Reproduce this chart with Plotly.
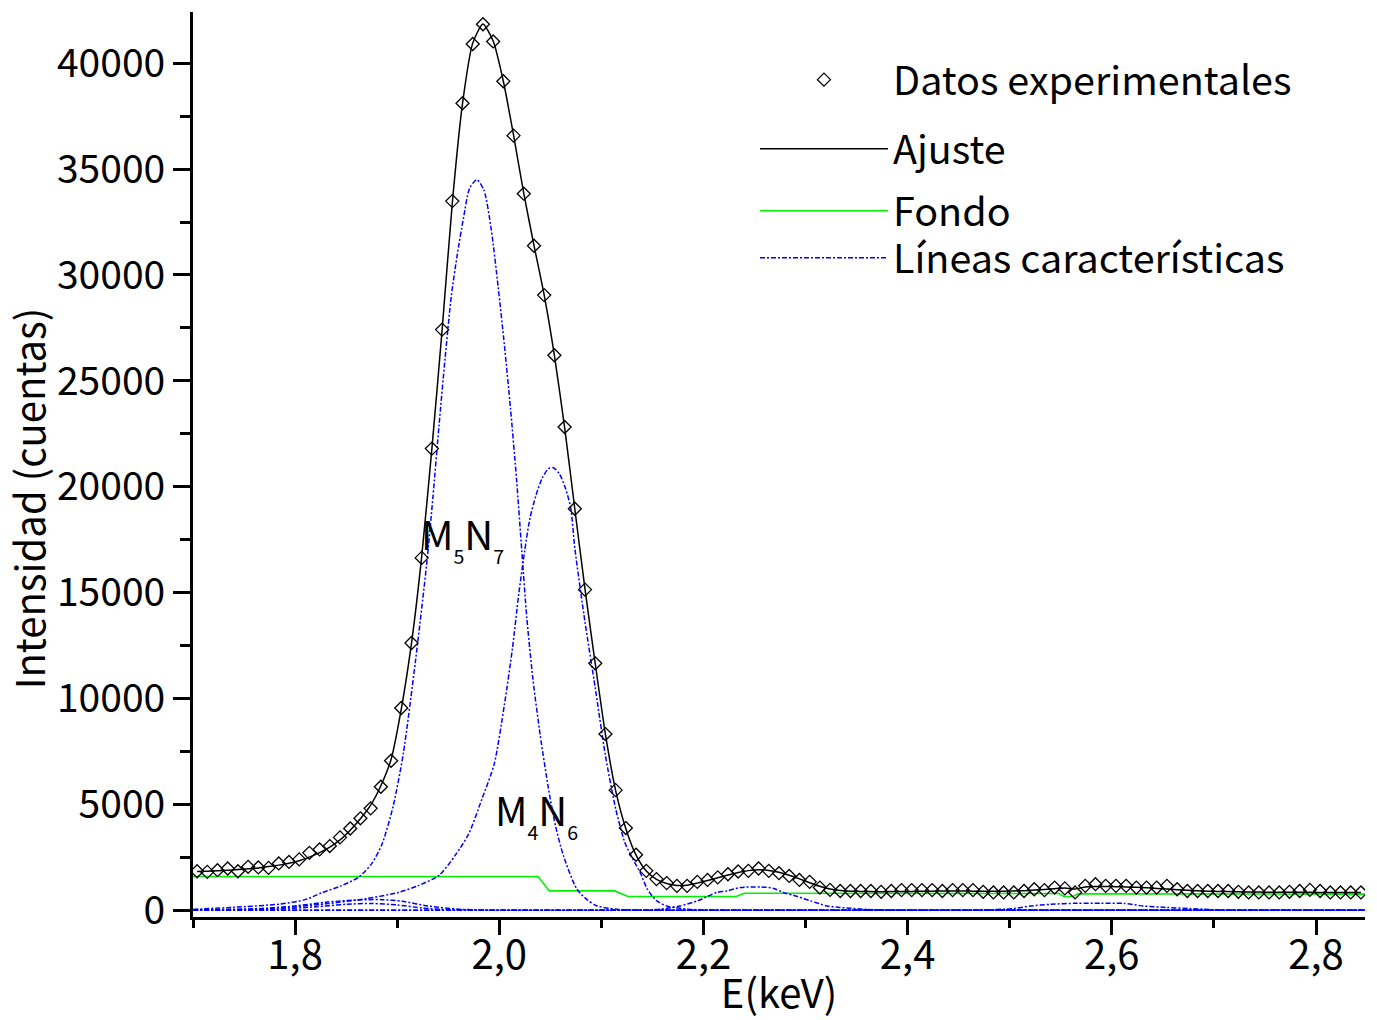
import plotly.graph_objects as go

FONT = "Noto Sans CJK SC"

# ---- experimental data (energy grid, counts) ----
E_DATA = [1.704, 1.714, 1.724, 1.734, 1.744, 1.754, 1.764, 1.774, 1.784, 1.794,
          1.804, 1.814, 1.824, 1.834, 1.844, 1.854, 1.864, 1.874, 1.884, 1.894,
          1.904, 1.914, 1.924, 1.934, 1.944, 1.954, 1.964, 1.974, 1.984, 1.994,
          2.004, 2.014, 2.024, 2.034, 2.044, 2.054, 2.064, 2.074, 2.084, 2.094,
          2.104, 2.114, 2.124, 2.134, 2.144, 2.154, 2.164, 2.174, 2.184, 2.194,
          2.204, 2.214, 2.224, 2.234, 2.244, 2.254, 2.264, 2.274, 2.284, 2.294,
          2.304, 2.314, 2.324, 2.334, 2.344, 2.354, 2.364, 2.374, 2.384, 2.394,
          2.404, 2.414, 2.424, 2.434, 2.444, 2.454, 2.464, 2.474, 2.484, 2.494,
          2.504, 2.514, 2.524, 2.534, 2.544, 2.554, 2.564, 2.574, 2.584, 2.594,
          2.604, 2.614, 2.624, 2.634, 2.644, 2.654, 2.664, 2.674, 2.684, 2.694,
          2.704, 2.714, 2.724, 2.734, 2.744, 2.754, 2.764, 2.774, 2.784, 2.794,
          2.804, 2.814, 2.824, 2.834, 2.844]

COUNTS = [1840, 1810, 1890, 1970, 1840, 2050, 2020, 2000, 2210, 2280,
          2400, 2710, 2870, 3030, 3440, 3860, 4340, 4810, 5830, 7060,
          9550, 12620, 16640, 21800, 27420, 33490, 38110, 40910, 41840, 41030,
          39150, 36580, 33840, 31380, 29050, 26210, 22820, 18960, 15140, 11660,
          8320, 5670, 3880, 2620, 1860, 1470, 1280, 1150, 1150, 1340,
          1430, 1550, 1700, 1830, 1860, 1970, 1860, 1750, 1620, 1430,
          1340, 1070, 960, 910, 910, 910, 910, 870, 910, 950,
          950, 950, 950, 910, 950, 950, 950, 870, 840, 840,
          840, 910, 990, 950, 1070, 1030, 840, 1150, 1230, 1150,
          1150, 1150, 1070, 1070, 1070, 1150, 990, 910, 910, 910,
          910, 910, 870, 840, 840, 840, 840, 870, 910, 960,
          910, 840, 840, 840, 840]

FIT = [1830, 1840, 1860, 1890, 1920, 1960, 2000, 2060, 2130, 2220,
       2340, 2510, 2720, 2980, 3320, 3780, 4320, 4960, 5880, 7120,
       9500, 12600, 16700, 21800, 27400, 33400, 38100, 40950, 41850, 41050,
       39150, 36600, 33850, 31400, 29050, 26200, 22800, 18950, 15150, 11650,
       8300, 5650, 3850, 2600, 1850, 1460, 1260, 1170, 1180, 1280,
       1400, 1530, 1660, 1780, 1870, 1910, 1880, 1790, 1650, 1480,
       1300, 1130, 1000, 930, 900, 890, 880, 875, 880, 885,
       890, 895, 900, 905, 905, 905, 900, 895, 895, 900,
       910, 925, 950, 980, 1020, 1050, 1000, 1100, 1120, 1120,
       1110, 1100, 1080, 1060, 1030, 1000, 970, 940, 920, 900,
       890, 880, 870, 860, 855, 850, 845, 845, 845, 845,
       840, 840, 840, 840, 840]

# ---- background (Fondo) ----
BG_E = [1.700, 2.038, 2.049, 2.113, 2.126, 2.232, 2.240, 2.548, 2.553, 2.562, 2.567, 2.848]
BG_V = [1590, 1590, 913, 913, 648, 648, 800, 790, 650, 650, 780, 760]

# ---- characteristic lines ----
M5N7_E = [1.700, 1.740, 1.785, 1.810, 1.826, 1.845, 1.862, 1.875, 1.885, 1.896,
          1.906, 1.918, 1.929, 1.935, 1.941, 1.947, 1.953, 1.959, 1.965, 1.971,
          1.978, 1.985, 1.992, 1.999, 2.005, 2.011, 2.017, 2.022, 2.027, 2.033,
          2.040, 2.048, 2.055, 2.063, 2.076, 2.086, 2.096, 2.115, 2.140, 2.200, 2.848]
M5N7_V = [40, 140, 290, 500, 820, 1150, 1550, 2200, 3100, 4900,
          7400, 11800, 16400, 19500, 22900, 26100, 29000, 31000, 32700, 34100,
          34500, 34000, 32200, 29400, 26700, 23700, 20300, 17000, 13800, 10900,
          8300, 5800, 4000, 2550, 1000, 500, 200, 50, 0, 0, 0]

M4N6_E = [1.700, 1.780, 1.830, 1.870, 1.901, 1.920, 1.941, 1.957, 1.970, 1.983,
          1.995, 2.005, 2.013, 2.019, 2.025, 2.030, 2.036, 2.042, 2.048, 2.053,
          2.059, 2.065, 2.070, 2.074, 2.084, 2.094, 2.104, 2.114, 2.123, 2.131,
          2.138, 2.145, 2.154, 2.164, 2.185, 2.210, 2.260, 2.848]
M4N6_V = [0, 100, 300, 550, 840, 1150, 1650, 2600, 3600, 5250,
          6900, 9700, 12400, 14900, 17000, 18500, 19600, 20400, 20850, 20900,
          20600, 19900, 19000, 17100, 13600, 10500, 7300, 4800, 3200, 2400,
          1780, 1000, 450, 200, 50, 0, 0, 0]

L3_E = [1.700, 2.100, 2.140, 2.158, 2.177, 2.194, 2.213, 2.223, 2.236, 2.256,
        2.269, 2.278, 2.292, 2.305, 2.321, 2.334, 2.360, 2.390, 2.440, 2.848]
L3_V = [0, 0, 0, 50, 200, 440, 840, 910, 1070, 1100,
        1030, 840, 650, 440, 200, 130, 40, 0, 0, 0]

L4_E = [1.700, 2.400, 2.470, 2.504, 2.520, 2.540, 2.566, 2.589, 2.612, 2.631,
        2.654, 2.677, 2.696, 2.720, 2.780, 2.848]
L4_V = [0, 0, 0, 80, 200, 280, 330, 330, 320, 200,
        130, 80, 30, 0, 0, 0]

L5_E = [1.700, 1.760, 1.800, 1.830, 1.860, 1.885, 1.905, 1.930, 1.960, 1.990, 2.050, 2.848]
L5_V = [0, 60, 200, 380, 480, 500, 420, 200, 50, 0, 0, 0]

L6_E = [1.700, 1.780, 1.820, 1.850, 1.875, 1.900, 1.925, 1.950, 1.980, 2.040, 2.848]
L6_V = [0, 50, 160, 280, 320, 250, 100, 20, 0, 0, 0]

COMPONENTS = [(M5N7_E, M5N7_V), (M4N6_E, M4N6_V), (L3_E, L3_V),
              (L4_E, L4_V), (L5_E, L5_V), (L6_E, L6_V)]

X_TICKS = [1.8, 2.0, 2.2, 2.4, 2.6, 2.8]
X_TICKTEXT = ["1,8", "2,0", "2,2", "2,4", "2,6", "2,8"]
X_MINOR = [1.7, 1.9, 2.1, 2.3, 2.5, 2.7]
Y_TICKS = [0, 5000, 10000, 15000, 20000, 25000, 30000, 35000, 40000]
Y_TICKTEXT = ["0", "5000", "10000", "15000", "20000", "25000", "30000", "35000", "40000"]
Y_MINOR = [2500, 7500, 12500, 17500, 22500, 27500, 32500, 37500]

BLUE = "#0000ff"
GREEN = "#00f000"
FS = 40

fig = go.Figure()

fig.add_trace(go.Scatter(
    x=BG_E, y=BG_V, mode="lines", name="Fondo",
    line=dict(color=GREEN, width=1.6), legend="legend3"))

for i, (ce, cv) in enumerate(COMPONENTS):
    fig.add_trace(go.Scatter(
        x=ce, y=cv, mode="lines", name="Líneas características",
        line=dict(color=BLUE, width=1.5, dash="5px,2px,2px,2px", shape="spline", smoothing=0.7),
        legend="legend4", legendgroup="lineas", showlegend=(i == 0)))

fig.add_trace(go.Scatter(
    x=E_DATA, y=FIT, mode="lines", name="Ajuste",
    line=dict(color="black", width=1.5, shape="spline", smoothing=0.6),
    legend="legend2"))

fig.add_trace(go.Scatter(
    x=E_DATA, y=COUNTS, mode="markers", name="Datos experimentales",
    marker=dict(symbol="diamond-open", size=10, color="black", line=dict(width=1.3, color="black")),
    legend="legend"))

ann_font = dict(family=FONT, size=FS, color="black")
fig.add_annotation(x=1.9214, y=17625, xref="x", yref="y", xanchor="left", yanchor="middle",
                   text="M<sub><sub>5</sub></sub>N<sub><sub>7</sub></sub>", showarrow=False, font=ann_font)
fig.add_annotation(x=1.9939, y=4592, xref="x", yref="y", xanchor="left", yanchor="middle",
                   text="M<sub><sub>4</sub></sub>N<sub><sub>6</sub></sub>", showarrow=False, font=ann_font)
# y-axis title
fig.add_annotation(x=-0.1405, y=0.463, xref="paper", yref="paper", xanchor="center", yanchor="middle",
                   textangle=-90, text="Intensidad (cuentas)", showarrow=False,
                   font=dict(family=FONT, size=FS, color="black"))

leg_common = dict(xanchor="left", yanchor="middle", x=0.4795, bgcolor="rgba(0,0,0,0)",
                  borderwidth=0, itemwidth=128,
                  font=dict(family=FONT, size=39.5, color="black"))
fig.update_layout(
    width=1377, height=1020,
    margin=dict(l=193, r=12, t=12, b=103),
    paper_bgcolor="white", plot_bgcolor="white",
    font=dict(family=FONT, size=FS, color="black"),
    showlegend=True,
    legend=dict(y=0.9249, **leg_common),
    legend2=dict(y=0.8486, **leg_common),
    legend3=dict(y=0.7801, **leg_common),
    legend4=dict(y=0.7282, **leg_common),
)

fig.update_xaxes(
    range=[1.700, 2.848], showgrid=False, zeroline=False, automargin=False,
    showline=True, linecolor="black", linewidth=3, mirror=False,
    ticks="outside", ticklen=15, tickwidth=3, tickcolor="black",
    tickmode="array", tickvals=X_TICKS, ticktext=X_TICKTEXT,
    ticklabelstandoff=-14,
    tickfont=dict(family=FONT, size=FS, color="black"),
    minor=dict(tickmode="array", tickvals=X_MINOR, ticks="outside", ticklen=8, tickwidth=3, tickcolor="black"),
    title=dict(text="E(keV)", font=dict(family=FONT, size=FS, color="black"), standoff=0),
)
fig.update_yaxes(
    range=[-320, 42420], showgrid=False, zeroline=False, automargin=False,
    showline=True, linecolor="black", linewidth=3, mirror=False,
    ticks="outside", ticklen=17, tickwidth=3, tickcolor="black",
    tickmode="array", tickvals=Y_TICKS, ticktext=Y_TICKTEXT,
    ticklabelstandoff=0,
    tickfont=dict(family=FONT, size=39, color="black"),
    minor=dict(tickmode="array", tickvals=Y_MINOR, ticks="outside", ticklen=10, tickwidth=3, tickcolor="black"),
)

fig.write_html("out.html")
